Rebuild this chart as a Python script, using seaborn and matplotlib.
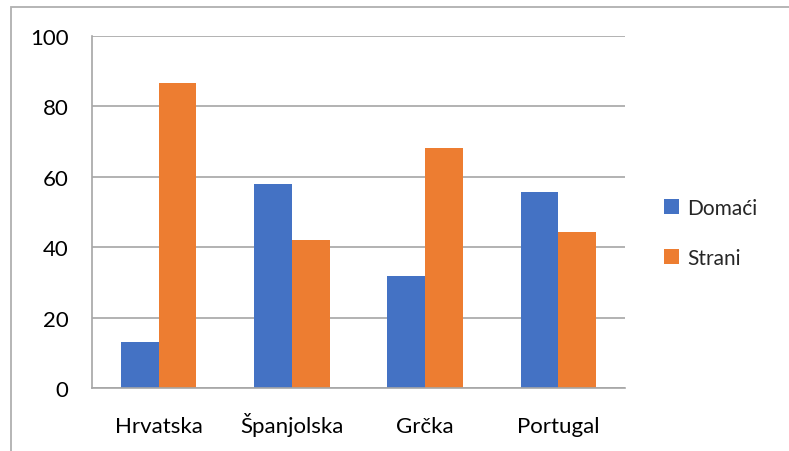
import matplotlib
matplotlib.use("Agg")
import matplotlib.pyplot as plt
import seaborn as sns
import pandas as pd
from matplotlib.patches import Rectangle, Patch

categories = ["Hrvatska", "Španjolska", "Grčka", "Portugal"]
domaci = [13.2, 57.9, 31.9, 55.6]
strani = [86.8, 42.0, 68.1, 44.4]
series = ["Domaći", "Strani"]
colors = ["#4472C4", "#ED7D31"]
yticks = [0, 20, 40, 60, 80, 100]

df = pd.DataFrame({
    "Zemlja": categories * 2,
    "Serija": [series[0]] * len(categories) + [series[1]] * len(categories),
    "Vrijednost": domaci + strani,
})

sns.set_theme(style="white")
plt.rcParams["font.family"] = ["Lato", "DejaVu Sans"]

fig = plt.figure(figsize=(7.89, 4.52), dpi=100)
ax = fig.add_axes([92 / 789, 1 - 389.3 / 452, (625 - 92) / 789, (389.3 - 37) / 452])

sns.barplot(data=df, x="Zemlja", y="Vrijednost", hue="Serija", palette=colors,
            width=0.565, ax=ax, legend=False, saturation=1, linewidth=0)

ax.set_ylim(0, 100)
ax.set_xlim(-0.5, 3.5)
ax.set_yticks(yticks)
ax.set_yticklabels([str(v) for v in yticks], fontsize=16, color="#000000")
ax.set_xlabel("")
ax.set_ylabel("")
ax.tick_params(axis="x", which="major", length=0, pad=31.5, labelsize=16, labelcolor="#000000")
for lbl in ax.get_xticklabels():
    lbl.set_verticalalignment("baseline")
ax.set_xticks([-0.5, 0.5, 1.5, 2.5, 3.5], minor=True)
ax.tick_params(axis="x", which="minor", length=6, color="#a6a6a6", width=1.2, direction="out")
ax.tick_params(axis="y", length=7, color="#a6a6a6", width=1.2, direction="out", pad=10)
ax.yaxis.grid(True, color="#a6a6a6", linewidth=1.2)
ax.set_axisbelow(True)
for s in ["top", "right"]:
    ax.spines[s].set_visible(False)
for s in ["left", "bottom"]:
    ax.spines[s].set_color("#a6a6a6")
    ax.spines[s].set_linewidth(1.2)

handles = [Patch(facecolor=c, edgecolor="none") for c in colors]
fig.legend(handles, series, loc="center left", bbox_to_anchor=(645 / 789, 1 - 234 / 452),
           frameon=False, fontsize=15, handlelength=0.72, handleheight=0.72,
           handletextpad=0.4, labelspacing=1.45)

fig.patches.append(Rectangle((11 / 789, -0.1), 1.2, 1 - 8 / 452 + 0.1, transform=fig.transFigure,
                             fill=False, edgecolor="#b0b0b0", linewidth=1.3))

fig.savefig("out.png", dpi=100)
